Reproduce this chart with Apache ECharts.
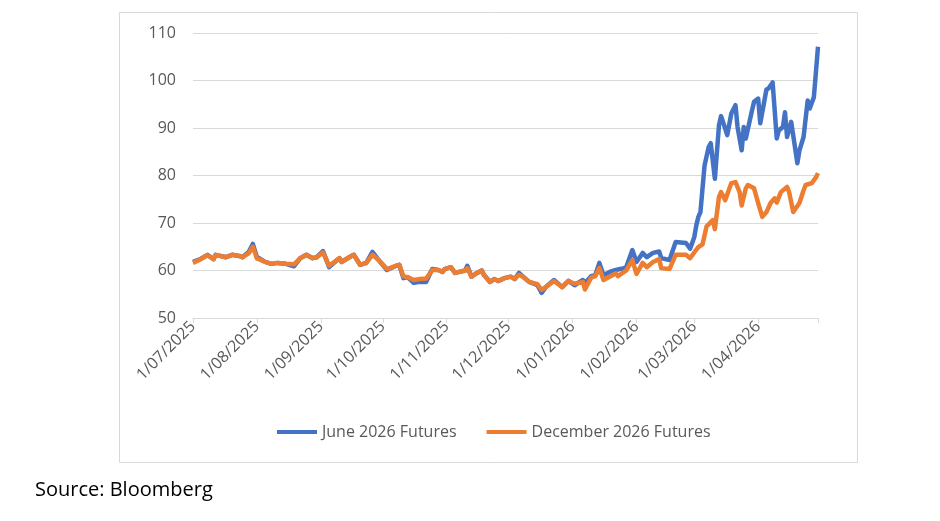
<!DOCTYPE html>
<html>
<head>
<meta charset="utf-8">
<title>June and December 2026 Futures</title>
<script src="https://cdn.jsdelivr.net/npm/echarts@6/dist/echarts.min.js"></script>
<style>
  html, body { margin: 0; padding: 0; background: #fff; }
  #main { width: 940px; height: 521px; }
</style>
</head>
<body>
<div id="main"></div>
<script>
// month ticks shown on the x axis
var monthTicks = ['2025-07-01', '2025-08-01', '2025-09-01', '2025-10-01', '2025-11-01',
  '2025-12-01', '2026-01-01', '2026-02-01', '2026-03-01', '2026-04-01'];
var axisEnd = '2026-04-30';

// June 2026 Futures
var juneDates = [
  '2025-07-01', '2025-07-04', '2025-07-08', '2025-07-11', '2025-07-12', '2025-07-17', '2025-07-20',
  '2025-07-24', '2025-07-25', '2025-07-28', '2025-07-30', '2025-08-01', '2025-08-02', '2025-08-05',
  '2025-08-08', '2025-08-11', '2025-08-15', '2025-08-19', '2025-08-22', '2025-08-25', '2025-08-28',
  '2025-08-30', '2025-09-02', '2025-09-05', '2025-09-10', '2025-09-11', '2025-09-16', '2025-09-17',
  '2025-09-20', '2025-09-23', '2025-09-26', '2025-09-29', '2025-10-03', '2025-10-07', '2025-10-09',
  '2025-10-11', '2025-10-13', '2025-10-16', '2025-10-19', '2025-10-22', '2025-10-25', '2025-10-28',
  '2025-10-30', '2025-10-31', '2025-11-03', '2025-11-05', '2025-11-10', '2025-11-11', '2025-11-13',
  '2025-11-15', '2025-11-18', '2025-11-19', '2025-11-22', '2025-11-24', '2025-11-26', '2025-11-29',
  '2025-12-02', '2025-12-04', '2025-12-06', '2025-12-08', '2025-12-11', '2025-12-15', '2025-12-17',
  '2025-12-19', '2025-12-23', '2025-12-27', '2025-12-30', '2026-01-02', '2026-01-06', '2026-01-07',
  '2026-01-10', '2026-01-12', '2026-01-14', '2026-01-16', '2026-01-19', '2026-01-22', '2026-01-23',
  '2026-01-26', '2026-01-27', '2026-01-30', '2026-02-01', '2026-02-04', '2026-02-06', '2026-02-09',
  '2026-02-12', '2026-02-13', '2026-02-17', '2026-02-20', '2026-02-25', '2026-02-27', '2026-03-01',
  '2026-03-02', '2026-03-03', '2026-03-04', '2026-03-06', '2026-03-08', '2026-03-09', '2026-03-11',
  '2026-03-13', '2026-03-14', '2026-03-16', '2026-03-17', '2026-03-19', '2026-03-21', '2026-03-22',
  '2026-03-24', '2026-03-25', '2026-03-26', '2026-03-29', '2026-03-30', '2026-04-01', '2026-04-02',
  '2026-04-05', '2026-04-06', '2026-04-08', '2026-04-10', '2026-04-11', '2026-04-13', '2026-04-14',
  '2026-04-15', '2026-04-17', '2026-04-20', '2026-04-21', '2026-04-23', '2026-04-25', '2026-04-26',
  '2026-04-28', '2026-04-30'
];
var juneValues = [
  61.8, 62.3, 63.3, 62.4, 63.3, 62.8, 63.3,
  63.0, 62.8, 63.9, 65.6, 62.8, 62.6, 61.8,
  61.4, 61.6, 61.4, 60.9, 62.6, 63.3, 62.6,
  62.8, 64.1, 60.7, 62.6, 61.8, 63.1, 63.3,
  61.2, 61.6, 63.9, 62.2, 60.1, 60.9, 61.2,
  58.4, 58.6, 57.4, 57.6, 57.6, 60.3, 60.1,
  59.7, 60.3, 60.7, 59.5, 60.0, 61.0, 58.7,
  59.3, 60.0, 59.1, 57.6, 58.2, 57.8, 58.4,
  58.7, 58.2, 59.5, 58.7, 57.6, 56.9, 55.3,
  56.5, 58.0, 56.5, 57.8, 56.9, 58.0, 57.3,
  58.8, 59.0, 61.6, 59.0, 59.7, 60.1, 60.2,
  60.5, 60.7, 64.3, 61.8, 63.7, 62.8, 63.7,
  64.0, 62.6, 62.2, 66.0, 65.8, 64.6, 67.0,
  69.5, 71.3, 72.3, 82.1, 86.0, 86.8, 79.3,
  90.6, 92.5, 89.9, 88.5, 93.1, 94.8, 90.2,
  85.3, 90.2, 87.8, 93.7, 95.5, 96.2, 91.0,
  98.1, 98.3, 99.6, 87.8, 89.5, 90.2, 93.3,
  88.1, 91.3, 82.6, 85.3, 88.1, 95.8, 94.1,
  96.5, 107.1, 105.3
];

// December 2026 Futures
var decDates = [
  '2025-07-01', '2025-07-04', '2025-07-08', '2025-07-11', '2025-07-12', '2025-07-17', '2025-07-20',
  '2025-07-24', '2025-07-25', '2025-07-28', '2025-07-30', '2025-08-01', '2025-08-02', '2025-08-05',
  '2025-08-08', '2025-08-11', '2025-08-15', '2025-08-19', '2025-08-22', '2025-08-25', '2025-08-28',
  '2025-08-30', '2025-09-02', '2025-09-05', '2025-09-10', '2025-09-11', '2025-09-16', '2025-09-17',
  '2025-09-20', '2025-09-23', '2025-09-26', '2025-09-29', '2025-10-03', '2025-10-07', '2025-10-09',
  '2025-10-11', '2025-10-13', '2025-10-16', '2025-10-19', '2025-10-22', '2025-10-25', '2025-10-28',
  '2025-10-30', '2025-10-31', '2025-11-03', '2025-11-05', '2025-11-10', '2025-11-11', '2025-11-13',
  '2025-11-15', '2025-11-18', '2025-11-19', '2025-11-22', '2025-11-24', '2025-11-26', '2025-11-29',
  '2025-12-02', '2025-12-04', '2025-12-06', '2025-12-08', '2025-12-11', '2025-12-15', '2025-12-17',
  '2025-12-19', '2025-12-23', '2025-12-27', '2025-12-30', '2026-01-02', '2026-01-06', '2026-01-07',
  '2026-01-10', '2026-01-12', '2026-01-14', '2026-01-16', '2026-01-19', '2026-01-22', '2026-01-23',
  '2026-01-26', '2026-01-27', '2026-01-30', '2026-02-01', '2026-02-04', '2026-02-06', '2026-02-09',
  '2026-02-12', '2026-02-13', '2026-02-17', '2026-02-20', '2026-02-25', '2026-02-27', '2026-03-01',
  '2026-03-03', '2026-03-05', '2026-03-07', '2026-03-10', '2026-03-11', '2026-03-13', '2026-03-14',
  '2026-03-16', '2026-03-19', '2026-03-21', '2026-03-23', '2026-03-24', '2026-03-26', '2026-03-27',
  '2026-03-30', '2026-04-01', '2026-04-03', '2026-04-05', '2026-04-07', '2026-04-09', '2026-04-10',
  '2026-04-12', '2026-04-15', '2026-04-16', '2026-04-18', '2026-04-21', '2026-04-23', '2026-04-24',
  '2026-04-27', '2026-04-29', '2026-04-30'
];
var decValues = [
  61.6, 62.2, 63.2, 62.4, 63.3, 62.8, 63.3,
  63.0, 62.8, 63.6, 65.0, 62.5, 62.4, 61.8,
  61.4, 61.6, 61.4, 61.3, 62.6, 63.3, 62.6,
  62.8, 63.8, 61.0, 62.6, 61.8, 63.1, 63.3,
  61.2, 61.6, 63.3, 62.2, 60.3, 60.9, 61.2,
  58.8, 58.6, 58.0, 58.2, 58.3, 60.1, 60.1,
  59.7, 60.3, 60.7, 59.5, 60.0, 60.5, 58.7,
  59.3, 60.0, 59.1, 57.6, 58.2, 57.8, 58.4,
  58.7, 58.2, 59.1, 58.7, 57.6, 57.1, 55.9,
  56.5, 57.8, 56.5, 57.8, 57.2, 57.6, 56.0,
  58.5, 58.8, 60.5, 58.0, 58.7, 59.4, 58.8,
  59.7, 60.0, 62.2, 59.3, 61.6, 60.7, 61.8,
  62.4, 60.5, 60.3, 63.3, 63.3, 62.6, 63.8,
  64.9, 65.5, 69.3, 70.6, 68.7, 75.5, 76.5,
  74.8, 78.4, 78.6, 76.5, 73.7, 77.3, 78.0,
  77.3, 74.2, 71.3, 72.3, 74.2, 75.2, 74.3,
  76.5, 77.6, 76.5, 72.3, 74.2, 76.9, 78.0,
  78.4, 79.6, 80.5
];

var yMin = 50, yMax = 110, yStep = 10;

function ts(d) {
  var p = d.split('-');
  return Date.UTC(+p[0], +p[1] - 1, +p[2]);
}

function pairs(dates, values) {
  return dates.map(function (d, i) { return [ts(d), values[i]]; });
}

function dayLabel(v) {
  var d = new Date(v);
  var m = d.getUTCMonth() + 1;
  return d.getUTCDate() + '/' + (m < 10 ? '0' + m : m) + '/' + d.getUTCFullYear();
}

var font = 'Open Sans';
var tickValues = monthTicks.map(ts);
var myChart = echarts.init(document.getElementById('main'));

var option = {
  animation: false,
  textStyle: { fontFamily: font },
  grid: { left: 193, right: 122, top: 33, bottom: 203, containLabel: false },
  graphic: [
    {
      type: 'rect', left: 117, top: 10,
      shape: { width: 738, height: 450 },
      style: { fill: 'none', stroke: '#d9d9d9', lineWidth: 1 }
    },
    {
      type: 'text', left: 35, top: 480,
      style: { text: 'Source: Bloomberg', fill: '#000', font: '20px "Open Sans"' }
    }
  ],
  legend: {
    top: 419, left: 272,
    icon: 'rect', itemWidth: 40, itemHeight: 4, itemGap: 30,
    textStyle: { color: '#595959', fontSize: 16, fontFamily: font },
    data: ['June 2026 Futures', 'December 2026 Futures']
  },
  xAxis: {
    type: 'value',
    min: ts(monthTicks[0]), max: ts(axisEnd),
    axisLine: { lineStyle: { color: '#d9d9d9', width: 1 } },
    axisTick: {
      show: true, length: 5, lineStyle: { color: '#d9d9d9' },
      customValues: tickValues.concat([ts(axisEnd)])
    },
    splitLine: { show: false },
    axisLabel: {
      customValues: tickValues,
      rotate: 45, margin: 6,
      color: '#595959', fontSize: 16, fontFamily: font,
      formatter: function (v) { return dayLabel(v); }
    }
  },
  yAxis: {
    type: 'value', min: yMin, max: yMax, interval: yStep,
    axisLine: { show: false }, axisTick: { show: false },
    splitLine: { lineStyle: { color: '#d9d9d9', width: 1 } },
    axisLabel: { color: '#595959', fontSize: 16, fontFamily: font, margin: 17 }
  },
  series: [
    {
      name: 'June 2026 Futures', type: 'line', showSymbol: false,
      data: pairs(juneDates, juneValues),
      itemStyle: { color: '#4472C4' },
      lineStyle: { color: '#4472C4', width: 4.5, join: 'round' }
    },
    {
      name: 'December 2026 Futures', type: 'line', showSymbol: false,
      data: pairs(decDates, decValues),
      itemStyle: { color: '#ED7D31' },
      lineStyle: { color: '#ED7D31', width: 4.5, join: 'round' }
    }
  ]
};

myChart.setOption(option);
</script>
</body>
</html>
